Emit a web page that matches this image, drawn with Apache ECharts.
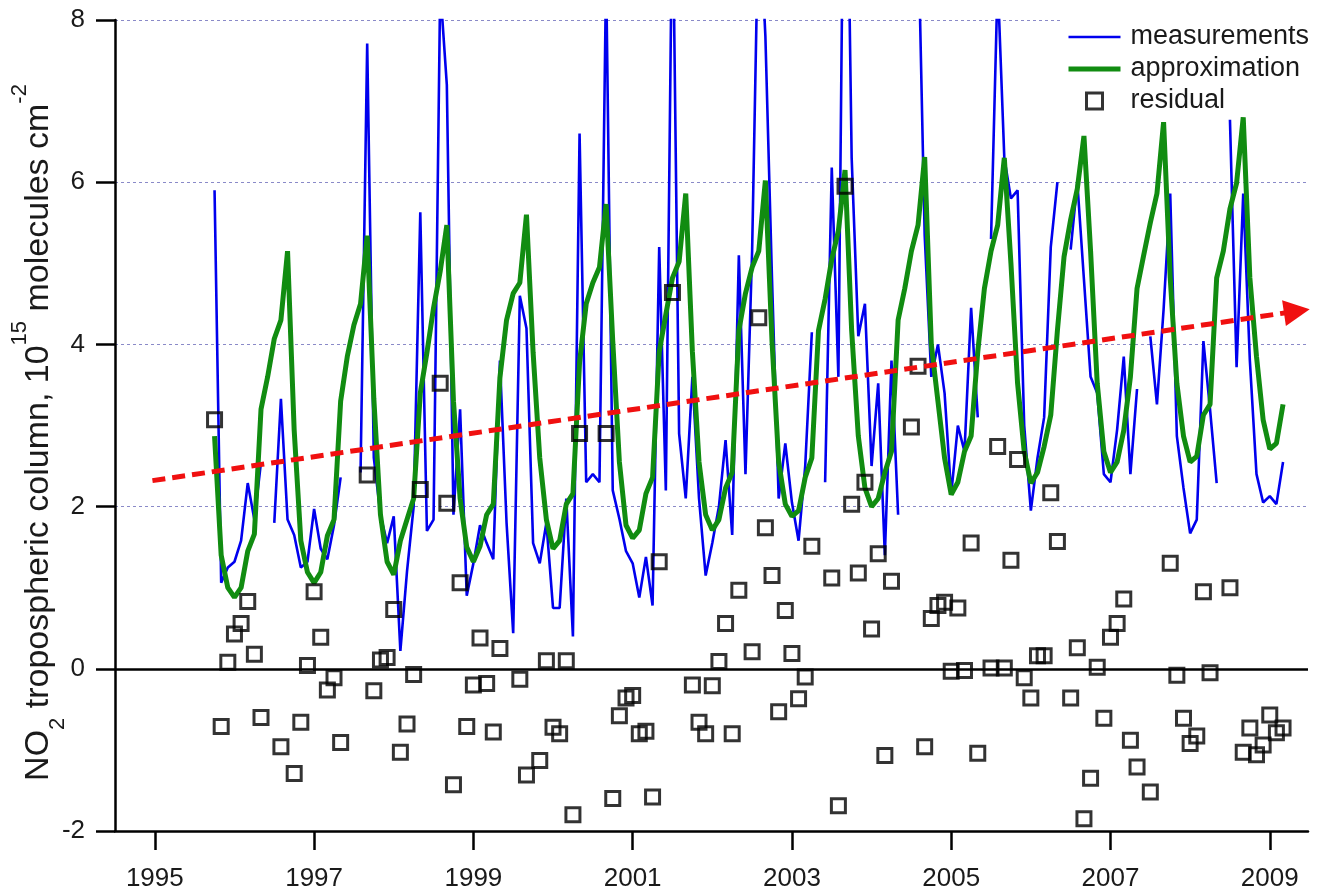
<!DOCTYPE html>
<html>
<head>
<meta charset="utf-8">
<title>NO2 tropospheric column</title>
<script src="https://cdn.jsdelivr.net/npm/echarts@6/dist/echarts.min.js"></script>
<style>
    html, body { margin: 0; padding: 0; background: #fff; }
    #chart { width: 1319px; height: 894px; }
</style>
</head>
<body>
<div id="chart"></div>
<script>
// monthly series, first value is October 1995
var firstYear = 1995;
var firstMonth = 10;

var measurements = [
    5.9, 1.06, 1.25, 1.32, 1.58, 2.29, 1.84, 2.55, null, 1.8, 3.33, 1.84,
    1.65, 1.25, 1.32, 1.97, 1.48, 1.35, 1.77, 2.36, null, null, 2.42, 7.71,
    2.6, 1.9, 1.55, 1.88, 0.22, 1.2, 2.0, 5.63, 1.7, 1.84, 8.4, 7.2,
    1.9, 3.2, 0.9, 1.3, 1.77, 1.55, 1.35, 3.8, 1.8, 0.44, 4.6, 4.2,
    1.55, 1.3, 1.8, 0.75, 0.75, 2.1, 0.4, 6.6, 2.3, 2.4, 2.3, 8.6,
    2.2, 1.85, 1.45, 1.3, 0.88, 1.38, 0.78, 5.2, 2.2, 9.7, 2.9, 2.1,
    3.6, 2.1, 1.15, 1.55, 2.0, 2.82, 1.65, 5.1, 2.4, 5.15, 9.5, 7.8,
    4.8, 2.1, 2.78, 2.05, 1.58, 2.5, 4.15, null, 2.3, 6.18, 3.6, 12,
    6.3, 4.1, 4.5, 2.5, 3.52, 1.4, 3.8, 1.9, null, 8.1, 9.2, 5.35,
    3.6, 4.0, 3.4, 2.15, 3.0, 2.68, 4.45, 3.1, null, 5.3, 8.5, 6.3,
    5.8, 5.9, 3.0, 1.95, 2.6, 3.1, 5.2, 6.0, null, 5.17, 6.0, 4.8,
    3.6, 3.4, 2.4, 2.3, 2.95, 3.85, 2.4, 3.45, null, 4.1, 3.26, 4.43,
    5.86, 2.87, 2.23, 1.67, 1.84, 4.04, 3.2, 2.29, null, 6.77, 3.72, 5.86,
    3.8, 2.4, 2.05, 2.13, 2.03, 2.55
];

var approximation = [
    2.87, 1.4, 1.0, 0.88, 1.0, 1.45, 1.66, 3.2, 3.6, 4.07, 4.3, 5.15,
    2.94, 1.58, 1.19, 1.06, 1.19, 1.64, 1.84, 3.3, 3.85, 4.24, 4.5, 5.34,
    3.33, 1.9, 1.32, 1.16, 1.58, 1.84, 2.1, 3.4, 3.9, 4.45, 4.9, 5.47,
    3.3, 2.1, 1.5, 1.32, 1.51, 1.9, 2.03, 3.59, 4.3, 4.63, 4.76, 5.6,
    3.9, 2.6, 1.84, 1.48, 1.58, 2.03, 2.16, 3.78, 4.5, 4.76, 4.95, 5.73,
    4.04, 2.55, 1.77, 1.61, 1.71, 2.16, 2.36, 3.91, 4.37, 4.82, 5.02, 5.86,
    3.91, 2.55, 1.9, 1.71, 1.84, 2.23, 2.42, 4.17, 4.63, 4.95, 5.15, 6.02,
    4.04, 2.55, 2.03, 1.88, 1.95, 2.36, 2.6, 4.17, 4.56, 5.05, 5.4, 6.15,
    4.17, 2.87, 2.23, 2.0, 2.1, 2.42, 2.68, 4.3, 4.69, 5.15, 5.47, 6.31,
    4.0, 3.3, 2.6, 2.15, 2.3, 2.68, 2.87, 3.91, 4.69, 5.15, 5.47, 6.3,
    5.0, 3.52, 2.68, 2.29, 2.42, 2.74, 3.13, 4.17, 5.08, 5.54, 5.92, 6.57,
    5.15, 3.52, 2.68, 2.42, 2.55, 2.94, 3.6, 4.69, 5.1, 5.5, 5.86, 6.74,
    4.82, 3.52, 2.87, 2.55, 2.62, 3.13, 3.26, 4.82, 5.15, 5.67, 5.99, 6.8,
    4.82, 3.85, 3.07, 2.71, 2.78, 3.26
];

// residuals below -2 fall outside the plot and are left out
var residual = [
    3.07, -0.71, 0.08, 0.43, 0.56, 0.83, 0.18, -0.6, null, null, -0.96, null,
    -1.29, -0.66, 0.04, 0.95, 0.39, -0.26, -0.11, -0.91, null, null, null, 2.39,
    -0.27, 0.11, 0.14, 0.73, -1.03, -0.68, -0.07, 2.21, null, null, 3.52, 2.04,
    -1.43, 1.06, -0.71, -0.2, 0.38, -0.18, -0.78, 0.25, null, null, -0.13, -1.31,
    null, -1.13, 0.1, -0.72, -0.8, 0.1, -1.8, 2.9, null, null, null, 2.9,
    -1.6, -0.58, -0.36, -0.33, -0.8, -0.77, -1.58, 1.32, null, 4.64, null, null,
    -0.2, -0.66, -0.8, -0.21, 0.09, 0.56, -0.8, 0.97, null, 0.21, 4.33, 1.74,
    1.15, -0.53, 0.72, 0.19, -0.37, -0.1, 1.51, null, null, 1.12, -1.69, 5.95,
    2.03, 1.18, 2.3, 0.49, 1.42, -1.07, 1.08, null, null, 2.98, 3.73, -0.96,
    0.62, 0.78, 0.82, -0.03, 0.75, -0.02, 1.55, -1.04, null, 0.01, 2.74, 0.01,
    1.34, 2.58, -0.11, -0.36, 0.16, 0.16, 2.17, 1.57, null, -0.36, 0.26, -1.85,
    -1.35, 0.02, -0.61, 0.39, 0.56, 0.86, -0.88, -1.21, null, -1.52, null, null,
    1.3, -0.08, -0.61, -0.92, -0.83, 0.95, -0.05, null, null, 1.0, null, -1.03,
    -0.73, -1.06, -0.94, -0.57, -0.79, -0.73
];

var yearTicks = [1995, 1997, 1999, 2001, 2003, 2005, 2007, 2009];

// trend arrow, [year, value]
var trendStart = [1994.97, 2.32];
var trendEnd = [2009.34, 4.41];

var fontName = "'Liberation Sans', Arial, sans-serif";
var textColor = '#1a1a1a';
var blue = '#0000ee';
var green = '#118c11';
var squareIcon = 'path://M0,0L10,0L10,10L0,10Z';

function monthPairs(values, skipEmpty) {
    var out = [];
    for (var i = 0; i < values.length; i++) {
        var t = firstYear + (firstMonth - 1 + i) / 12;
        if (values[i] === null) {
            if (!skipEmpty) out.push([t, '-']);
        } else {
            out.push([t, values[i]]);
        }
    }
    return out;
}

var chart = echarts.init(document.getElementById('chart'));

var option = {
    animation: false,
    backgroundColor: '#fff',
    textStyle: { fontFamily: fontName },
    grid: { left: 115, right: 11, top: 20, bottom: 63, outerBoundsMode: 'none', containLabel: false },
    legend: {
        data: [
            { name: 'measurements', itemStyle: { opacity: 0 }, lineStyle: { color: blue, width: 2.6 } },
            { name: 'approximation', itemStyle: { opacity: 0 }, lineStyle: { color: green, width: 5 } },
            { name: 'residual', icon: squareIcon,
              itemStyle: { color: 'rgba(0,0,0,0)', borderColor: '#000', borderWidth: 3 } }
        ],
        orient: 'vertical',
        left: 1063,
        top: 18,
        padding: [5, 4, 0, 3],
        backgroundColor: '#fff',
        itemWidth: 52,
        itemHeight: 16,
        itemGap: 4,
        symbolKeepAspect: true,
        selectedMode: false,
        textStyle: { fontFamily: fontName, fontSize: 27, color: textColor, lineHeight: 28, padding: [0, 0, 0, 5] }
    },
    xAxis: {
        type: 'value',
        min: 1994.5,
        max: 2009.48,
        axisLine: { onZero: false, lineStyle: { color: '#000', width: 2.5 } },
        axisTick: { customValues: yearTicks, length: 19, lineStyle: { color: '#000', width: 2.5 } },
        axisLabel: {
            customValues: yearTicks,
            margin: 35,
            fontSize: 26,
            fontFamily: fontName,
            color: textColor,
            formatter: function (v) { return String(v); }
        },
        splitLine: { show: false }
    },
    yAxis: {
        type: 'value',
        min: -2,
        max: 8,
        interval: 2,
        axisLine: { show: true, lineStyle: { color: '#000', width: 2.5 } },
        axisTick: { show: true, length: 19, lineStyle: { color: '#000', width: 2.5 } },
        axisLabel: { margin: 30, fontSize: 26, fontFamily: fontName, color: textColor },
        splitLine: { show: true, lineStyle: { color: '#8a8ac8', width: 1, type: [3, 3] } },
        name: '{a|NO}{b|2}{a| tropospheric column, 10}{c|15}{a| molecules cm}{c|-2}',
        nameLocation: 'middle',
        nameRotate: 90,
        nameGap: 46,
        nameMoveOverlap: false,
        nameTextStyle: {
            fontFamily: fontName,
            color: textColor,
            padding: [0, 14, 0, 0],
            rich: {
                a: { fontFamily: fontName, fontSize: 34, lineHeight: 60, color: textColor },
                b: { fontFamily: fontName, fontSize: 22, lineHeight: 32, verticalAlign: 'bottom', color: textColor },
                c: { fontFamily: fontName, fontSize: 22, lineHeight: 16, verticalAlign: 'top', color: textColor }
            }
        }
    },
    series: [
        {
            name: 'zero',
            type: 'line',
            data: [],
            z: 1,
            markLine: {
                silent: true,
                symbol: ['none', 'none'],
                label: { show: false },
                lineStyle: { color: '#000', width: 2.5, type: 'solid' },
                data: [{ yAxis: 0 }]
            }
        },
        {
            name: 'measurements',
            type: 'line',
            data: monthPairs(measurements, false),
            symbol: 'none',
            connectNulls: false,
            clip: true,
            z: 2,
            lineStyle: { color: blue, width: 2.6 },
            itemStyle: { color: blue }
        },
        {
            name: 'approximation',
            type: 'line',
            data: monthPairs(approximation, false),
            symbol: 'none',
            clip: true,
            z: 3,
            lineStyle: { color: green, width: 5 },
            itemStyle: { color: green }
        },
        {
            name: 'residual',
            type: 'scatter',
            data: monthPairs(residual, true),
            symbol: 'rect',
            symbolSize: 14,
            z: 4,
            itemStyle: { color: 'rgba(0,0,0,0)', borderColor: '#000', borderWidth: 3 }
        },
        {
            name: 'trend',
            type: 'line',
            data: [],
            z: 5,
            markLine: {
                silent: true,
                symbol: ['none', 'triangle'],
                symbolSize: 26,
                label: { show: false },
                itemStyle: { color: '#f01010' },
                lineStyle: { color: '#f01010', width: 5, type: [13, 7], opacity: 1 },
                data: [[{ coord: trendStart }, { coord: trendEnd }]]
            }
        }
    ]
};

chart.setOption(option);
</script>
</body>
</html>
